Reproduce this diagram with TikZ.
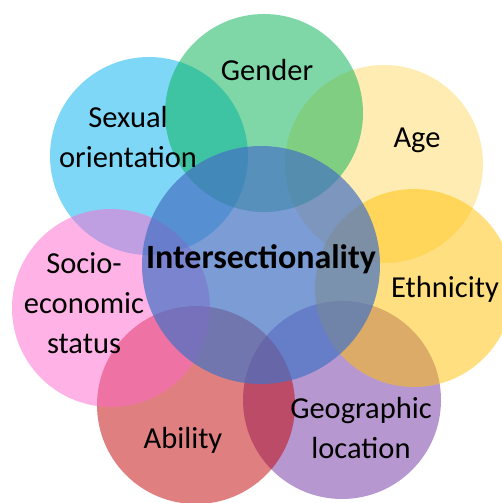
\documentclass[tikz,border=0pt]{standalone}
\usepackage{fontspec}
\setmainfont{Carlito}
\usepackage{xcolor}
\usetikzlibrary{positioning}

\definecolor{agegold}{RGB}{255,192,0}
\definecolor{sexblue}{RGB}{0,176,240}
\definecolor{gendergreen}{RGB}{0,176,80}
\definecolor{geopurple}{RGB}{112,48,160}
\definecolor{ethgold}{RGB}{255,192,0}
\definecolor{abilityred}{RGB}{192,0,0}
\definecolor{sociopink}{RGB}{255,102,204}
\definecolor{interblue}{RGB}{68,114,196}

\begin{document}
\begin{tikzpicture}[x=1pt, y=-1pt,
    lbl/.style={font=\fontsize{30.5}{40}\selectfont, align=center, inner sep=0pt, anchor=base},
    ]
    \useasboundingbox (0,0) rectangle (502,503);
    \clip (0,0) rectangle (502,503);

    % the seven outer circles
    \foreach \cx/\cy/\col/\op in {384/164/agegold/0.3, 149/156/sexblue/0.5, 264/113/gendergreen/0.5,
                                  342/400/geopurple/0.5, 414/288/ethgold/0.5, 196/405/abilityred/0.5,
                                  111/308/sociopink/0.5}
        \fill[\col, fill opacity=\op] (\cx,\cy) circle (99pt);

    % the centre circle
    \fill[interblue, fill opacity=0.7] (261,265) circle (119pt);

    % labels (base = last line)
    \node[lbl] (gender) at (267,81) {Gender};
    \node[lbl] (sexual) at (128,167) {Sexual\\orientation};
    \node[lbl] (age) at (417,147) {Age};
    \node[lbl, font=\fontsize{34}{40}\selectfont\bfseries] (inter) at (261,268) {Intersectionality};
    \node[lbl] (ethnicity) at (445,297) {Ethnicity};
    \node[lbl] (socio) at (84,353) {Socio-\\economic\\status};
    \node[lbl] (ability) at (183,448) {Ability};
    \node[lbl] (geo) at (361,458) {Geographic\\location};
\end{tikzpicture}
\end{document}
